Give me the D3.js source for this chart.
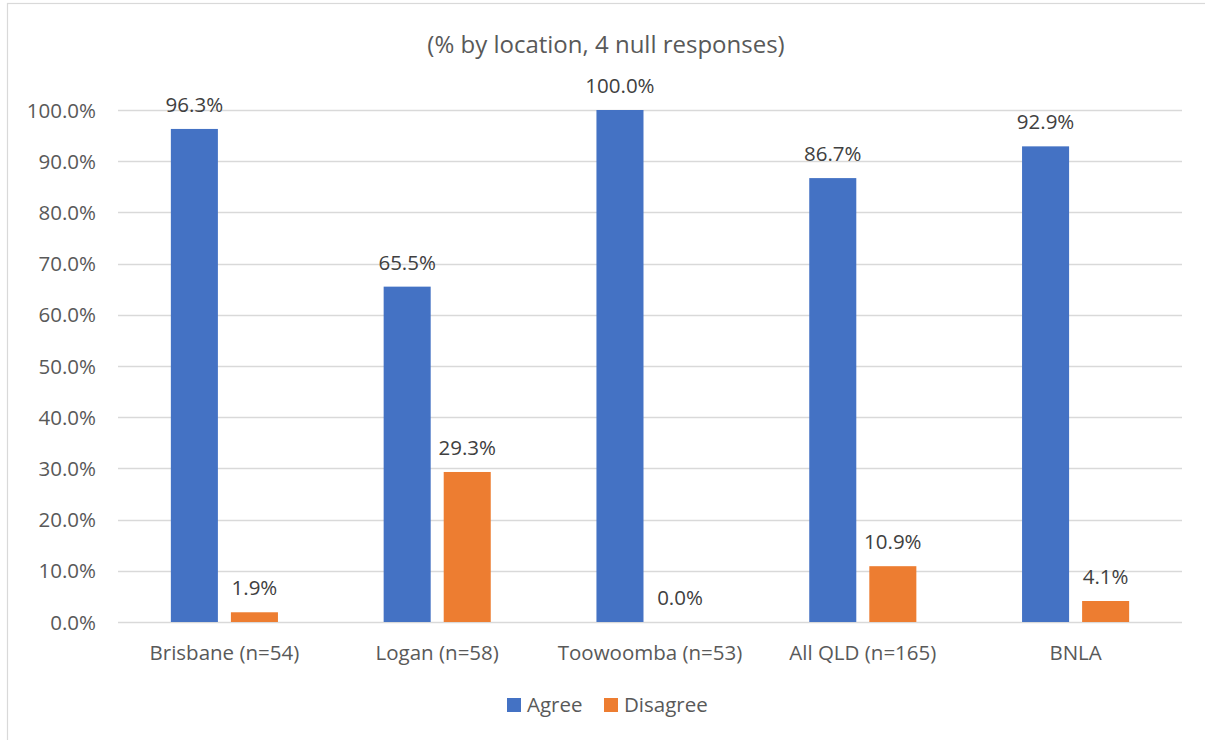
<!DOCTYPE html>
<html>
<head>
<meta charset="utf-8">
<script src="https://cdn.jsdelivr.net/npm/d3@7"></script>
<style>
  html, body { margin: 0; padding: 0; background: #fff; }
  svg { display: block; font-family: "Open Sans", "Liberation Sans", sans-serif; }
</style>
</head>
<body>
<svg id="chart" width="1205" height="740"></svg>
<script>
// Survey responses by location
const categories = ["Brisbane (n=54)", "Logan (n=58)", "Toowoomba (n=53)", "All QLD (n=165)", "BNLA"];
const seriesNames = ["Agree", "Disagree"];
const agree = [96.3, 65.5, 100.0, 86.7, 92.9];
const disagree = [1.9, 29.3, 0.0, 10.9, 4.1];
const yTicks = [0, 10, 20, 30, 40, 50, 60, 70, 80, 90, 100];
const colors = ["#4472C4", "#ED7D31"];
const title = "(% by location, 4 null responses)";

const svg = d3.select("#chart");
const W = 1205, H = 740;
const plot = { left: 118, right: 1182, top: 110, bottom: 622 };
const textColor = "#595959";
const fontSize = "20.5px";

// Chart border
svg.append("rect")
  .attr("x", 7.5).attr("y", 3.5)
  .attr("width", W).attr("height", H)
  .attr("fill", "#fff").attr("stroke", "#d9d9d9").attr("stroke-width", 1.2);

const x0 = d3.scaleBand().domain(categories).range([plot.left, plot.right]).paddingInner(0).paddingOuter(0);
const x1 = d3.scaleBand().domain(seriesNames).range([0, x0.bandwidth()]).paddingInner(0.2167).paddingOuter(0.88);
const y = d3.scaleLinear().domain([0, 100]).range([plot.bottom, plot.top]);

// Gridlines
svg.append("g")
  .selectAll("line").data(yTicks).join("line")
  .attr("x1", plot.left).attr("x2", plot.right)
  .attr("y1", d => Math.round(y(d)) + 0.5).attr("y2", d => Math.round(y(d)) + 0.5)
  .attr("stroke", "#d9d9d9").attr("stroke-width", 1.3);

// Y axis labels
const yAxis = d3.axisLeft(y).tickValues(yTicks).tickSize(0).tickPadding(0)
  .tickFormat(d => d.toFixed(1) + "%");
const ya = svg.append("g").attr("transform", `translate(${plot.left - 22},0)`).call(yAxis);
ya.select(".domain").remove();
ya.selectAll("text").attr("fill", textColor).style("font-size", fontSize)
  .style("font-family", "'Open Sans', sans-serif").attr("dy", "0.35em");

// Bars
const rows = categories.map((c, i) => ({ cat: c, vals: [agree[i], disagree[i]] }));
const groups = svg.append("g").selectAll("g").data(rows).join("g")
  .attr("transform", d => `translate(${x0(d.cat)},0)`);

groups.selectAll("rect").data(d => d.vals.map((v, j) => ({ s: seriesNames[j], v, j })))
  .join("rect")
  .attr("x", d => x1(d.s)).attr("width", x1.bandwidth())
  .attr("y", d => y(d.v)).attr("height", d => y(0) - y(d.v))
  .attr("fill", d => colors[d.j]);

// Value labels
groups.selectAll("text.val").data(d => d.vals.map((v, j) => ({ s: seriesNames[j], v, j })))
  .join("text").attr("class", "val")
  .attr("x", d => x1(d.s) + x1.bandwidth() / 2)
  .attr("y", d => y(d.v) - 17)
  .attr("text-anchor", "middle")
  .attr("fill", "#404040").style("font-size", fontSize)
  .text(d => d.v.toFixed(1) + "%");

// Category axis labels
const xAxis = d3.axisBottom(x0).tickSize(0).tickPadding(0);
const xa = svg.append("g").attr("transform", `translate(0,${plot.bottom})`).call(xAxis);
xa.select(".domain").remove();
xa.selectAll("text").attr("fill", textColor).style("font-size", fontSize)
  .style("font-family", "'Open Sans', sans-serif").attr("y", 38).attr("dy", null);

// Title
svg.append("text").attr("x", 606).attr("y", 53).attr("text-anchor", "middle")
  .attr("fill", textColor).style("font-size", "24px").text(title);

// Legend
const legend = svg.append("g").attr("transform", "translate(507,705)");
const legendOffsets = [0, 97];
seriesNames.forEach((s, i) => {
  const g = legend.append("g").attr("transform", `translate(${legendOffsets[i]},0)`);
  g.append("rect").attr("x", 0).attr("y", -7).attr("width", 14).attr("height", 14).attr("fill", colors[i]);
  g.append("text").attr("x", 20).attr("y", 7)
    .attr("fill", textColor).style("font-size", fontSize).text(s);
});
</script>
</body>
</html>
